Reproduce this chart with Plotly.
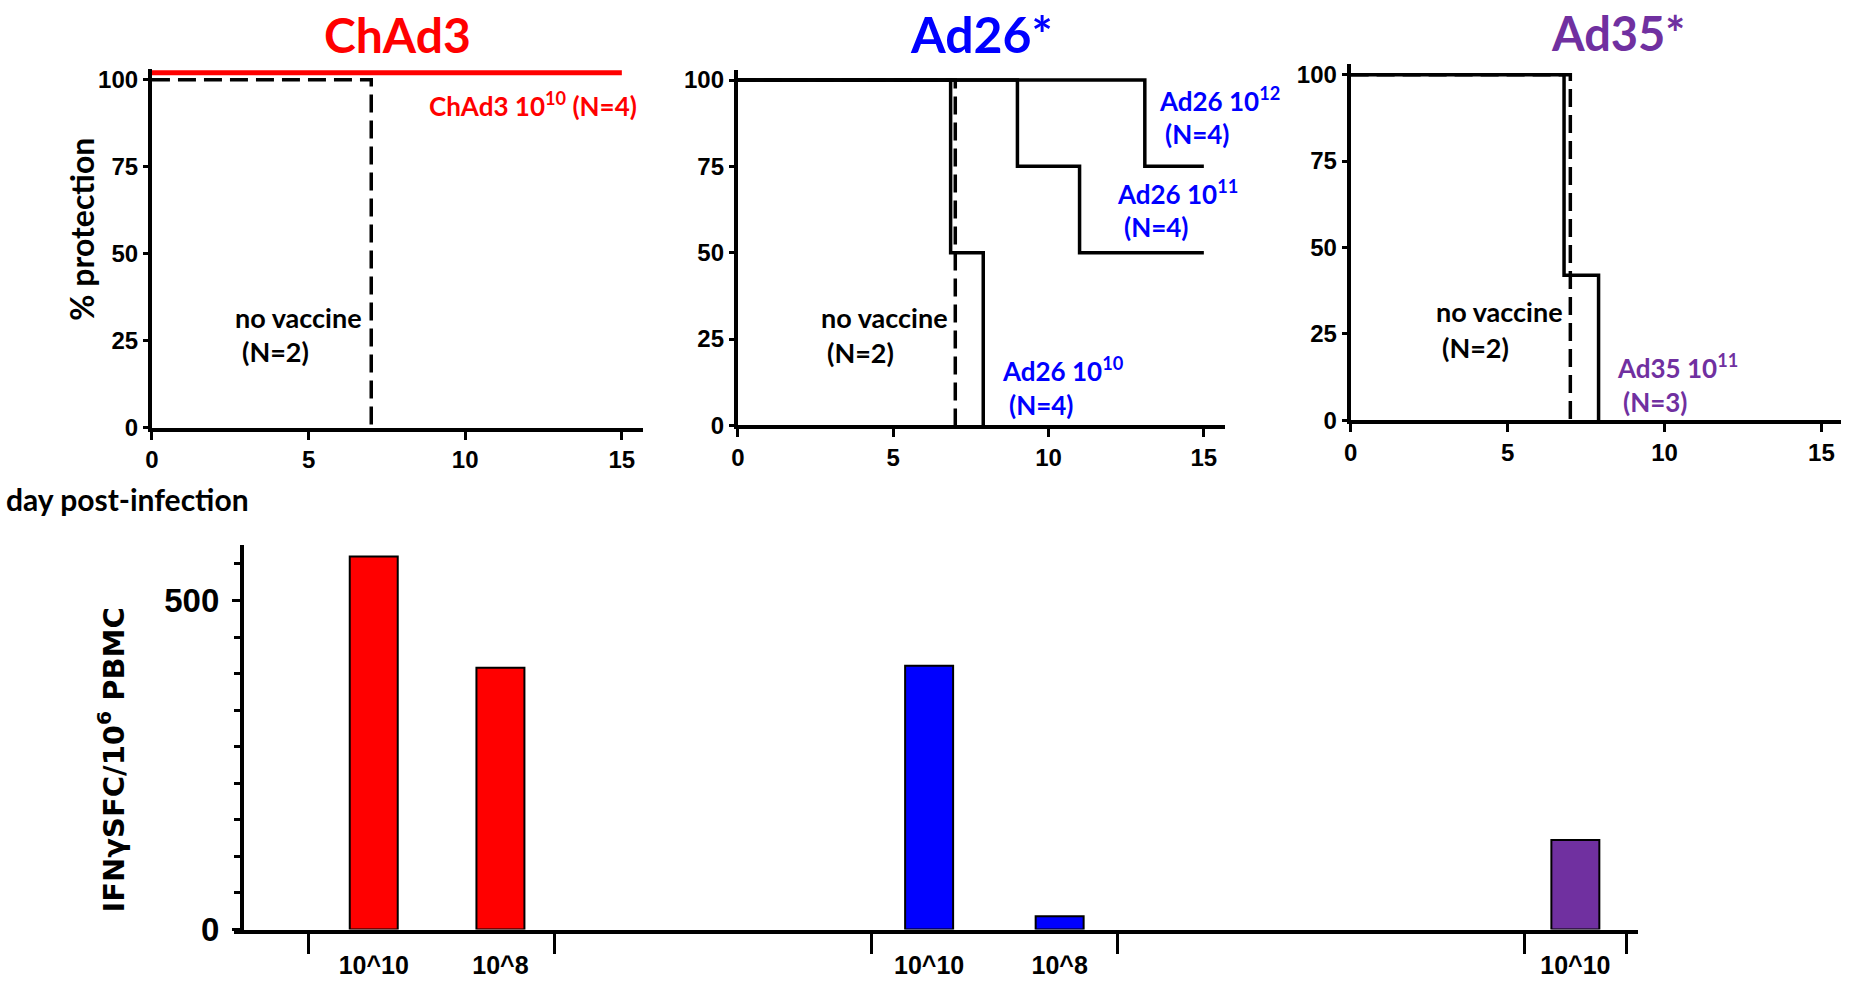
import plotly.graph_objects as go

W, H = 1854, 992

# ---- survival data: day of each step and % protection after it ----
days_novax = [0, 7.0]
surv_novax = [100, 0]

days_chad3_1e10 = [0, 15]
surv_chad3_1e10 = [100, 100]

days_ad26_1e10 = [0, 6.85, 7.9]
surv_ad26_1e10 = [100, 50, 0]
days_ad26_1e11 = [0, 9.0, 11.0, 15]
surv_ad26_1e11 = [100, 75, 50, 50]
days_ad26_1e12 = [0, 13.1, 15]
surv_ad26_1e12 = [100, 75, 75]

days_ad35_1e11 = [0, 6.8, 7.9]
surv_ad35_1e11 = [100, 42, 0]

day_ticks = [0, 5, 10, 15]
pct_ticks = [0, 25, 50, 75, 100]

# ---- ELISpot responses ----
bar_vectors = ["ChAd3", "ChAd3", "Ad26", "Ad26", "Ad35"]
bar_doses = ["10^10", "10^8", "10^10", "10^8", "10^10"]
bar_sfc = [567, 398, 401, 20, 136]
sfc_ticks = [0, 500]

# layout of the bar axis (slot units)
bar_pos = [1.03, 2.02, 5.37, 6.39, 10.42]
group_edges = [0.52, 2.44, 4.92, 6.84, 10.02, 10.82]

RED, BLUE, PURPLE = "#FF0000", "#0000FF", "#7030A0"
vec_color = {"ChAd3": RED, "Ad26": BLUE, "Ad35": PURPLE}

TICK_FONT = dict(family="Liberation Sans, Arial, sans-serif", size=24, color="black", weight="bold")
LBL_FAMILY = "Lato, Open Sans, sans-serif"

# page-to-figure pixel mapping (the page is displayed slightly scaled)
SX, OX = 0.9965, 6.0
SY, OY = 0.978, 3.3


def px_x(p):
    return ((p - OX) / SX) / W


def px_y(p):
    return 1 - ((p - OY) / SY) / H


fig = go.Figure()


def step(x, y, ax, dash="solid", color="black", width=3.5):
    fig.add_trace(go.Scatter(
        x=x, y=y, mode="lines", line=dict(shape="hv", color=color, width=width, dash=dash),
        xaxis="x" + ax, yaxis="y" + ax, cliponaxis=False, showlegend=False, hoverinfo="skip"))


DASH = "18px,8px"
RED_OFFSET = 2  # lift the 100% red curve so it isn't hidden by the black one

# panel 1 : ChAd3
step(days_novax, surv_novax, "", dash=DASH)
step(days_chad3_1e10, [v + RED_OFFSET for v in surv_chad3_1e10], "", color=RED, width=5)

# panel 2 : Ad26
step(days_ad26_1e12, surv_ad26_1e12, "2")
step(days_ad26_1e11, surv_ad26_1e11, "2")
step(days_ad26_1e10, surv_ad26_1e10, "2")
step(days_novax, surv_novax, "2", dash=DASH)

# panel 3 : Ad35
step(days_ad35_1e11, surv_ad35_1e11, "3")
step(days_novax, surv_novax, "3", dash=DASH)

# bottom : ELISpot bars
fig.add_trace(go.Bar(
    x=bar_pos, y=bar_sfc, width=0.375,
    marker=dict(color=[vec_color[v] for v in bar_vectors], line=dict(color="black", width=2)),
    xaxis="x4", yaxis="y4", showlegend=False, hoverinfo="skip"))


def surv_axes(xdom, xmax, ydom):
    xa = dict(domain=xdom, range=[0, xmax], showline=True, linewidth=4, linecolor="black",
              ticks="outside", ticklen=8, tickwidth=3, tickcolor="black",
              tickvals=day_ticks, tickfont=TICK_FONT, showgrid=False, zeroline=False,
              ticklabelstandoff=0, fixedrange=True)
    ya = dict(domain=ydom, range=[0, 103], showline=True, linewidth=4, linecolor="black",
              ticks="outside", ticklen=5, tickwidth=3, tickcolor="black",
              tickvals=pct_ticks, tickfont=TICK_FONT, showgrid=False, zeroline=False,
              ticklabelstandoff=0, fixedrange=True)
    return xa, ya


xa1, ya1 = surv_axes([px_x(151), px_x(642)], 15.67, [px_y(428), px_y(69.6)])
xa2, ya2 = surv_axes([px_x(737), px_x(1224)], 15.67, [px_y(425.7), px_y(70)])
xa3, ya3 = surv_axes([px_x(1350), px_x(1841)], 15.64, [px_y(420.7), px_y(64.6)])
xa1["anchor"], ya1["anchor"] = "y", "x"
xa2["anchor"], ya2["anchor"] = "y2", "x2"
xa3["anchor"], ya3["anchor"] = "y3", "x3"

xa4 = dict(domain=[px_x(233), px_x(1637)], range=[-0.0625, 10.906], anchor="y4",
           showline=True, linewidth=4, linecolor="black", showgrid=False, zeroline=False,
           tickmode="array", tickvals=bar_pos, ticktext=bar_doses, ticks="",
           tickfont=dict(family="Liberation Sans, Arial, sans-serif", size=25, color="black", weight="bold"),
           ticklabelstandoff=10,
           minor=dict(tickmode="array", tickvals=group_edges, ticks="outside", ticklen=20,
                      tickwidth=3, tickcolor="black", showgrid=False),
           fixedrange=True)
ya4 = dict(domain=[px_y(930), px_y(545)], range=[0, 585], anchor="free", position=px_x(241),
           showline=True, linewidth=4, linecolor="black", showgrid=False, zeroline=False,
           tickvals=sfc_ticks, ticks="outside", ticklen=8, tickwidth=3, tickcolor="black",
           tickfont=dict(family="Liberation Sans, Arial, sans-serif", size=33, color="black", weight="bold"),
           ticklabelstandoff=6,
           minor=dict(tick0=0, dtick=500 / 9, ticks="outside", ticklen=6, tickwidth=3,
                      tickcolor="black", showgrid=False),
           fixedrange=True)

annotations = []


def note(text, x, y, ax, color="black", size=27, xanchor="left"):
    annotations.append(dict(text=text, x=x, y=y, xref="x" + ax, yref="y" + ax, showarrow=False,
                            xanchor=xanchor, yanchor="middle",
                            font=dict(family=LBL_FAMILY, size=size, color=color, weight="bold")))


def paper_text(text, xp, yp, color="black", size=24, xanchor="center", angle=0,
               family=LBL_FAMILY, yanchor="middle"):
    annotations.append(dict(text=text, x=px_x(xp), y=min(px_y(yp), 1.0), xref="paper", yref="paper",
                            showarrow=False, xanchor=xanchor, yanchor=yanchor, textangle=angle,
                            font=dict(family=family, size=size, color=color, weight="bold")))


# panel titles
paper_text("ChAd3", 397, 35, color=RED, size=48)
paper_text("Ad26*", 981, 34, color=BLUE, size=50)
paper_text("Ad35*", 1617, 0, color=PURPLE, size=47, yanchor="top")

# panel 1 labels
note("ChAd3 10<sup>10</sup> (N=4)", 15.55, 93, "", color=RED, size=26, xanchor="right")
note("no vaccine", 2.6, 31.6, "")
note("(N=2)", 2.8, 21.8, "")

# panel 2 labels
note("Ad26 10<sup>12</sup>", 13.5, 94.5, "2", color=BLUE, size=26)
note("(N=4)", 13.7, 84.4, "2", color=BLUE, size=26)
note("Ad26 10<sup>11</sup>", 12.15, 67.5, "2", color=BLUE, size=26)
note("(N=4)", 12.35, 57.5, "2", color=BLUE, size=26)
note("Ad26 10<sup>10</sup>", 8.45, 16.1, "2", color=BLUE, size=26)
note("(N=4)", 8.65, 5.8, "2", color=BLUE, size=26)
note("no vaccine", 2.62, 31.2, "2")
note("(N=2)", 2.82, 21.2, "2")

# panel 3 labels
note("no vaccine", 2.65, 31.4, "3")
note("(N=2)", 2.85, 21.1, "3")
note("Ad35 10<sup>11</sup>", 8.42, 15.7, "3", color=PURPLE, size=26)
note("(N=3)", 8.62, 5.4, "3", color=PURPLE, size=26)

# axis titles
paper_text("% protection", 81, 229, size=32, angle=-90)
paper_text("day post-infection", 3, 499, size=30, xanchor="left")
paper_text("IFNγSFC/10<sup>6</sup> PBMC", 110, 760, size=29, angle=-90,
           family="DejaVu Sans, Verdana, sans-serif")

fig.update_layout(
    width=W, height=H, margin=dict(l=0, r=0, t=0, b=0),
    paper_bgcolor="white", plot_bgcolor="white",
    xaxis=xa1, yaxis=ya1, xaxis2=xa2, yaxis2=ya2, xaxis3=xa3, yaxis3=ya3,
    xaxis4=xa4, yaxis4=ya4,
    annotations=annotations, showlegend=False,
)

fig.write_html("out.html", config={"displayModeBar": False})
